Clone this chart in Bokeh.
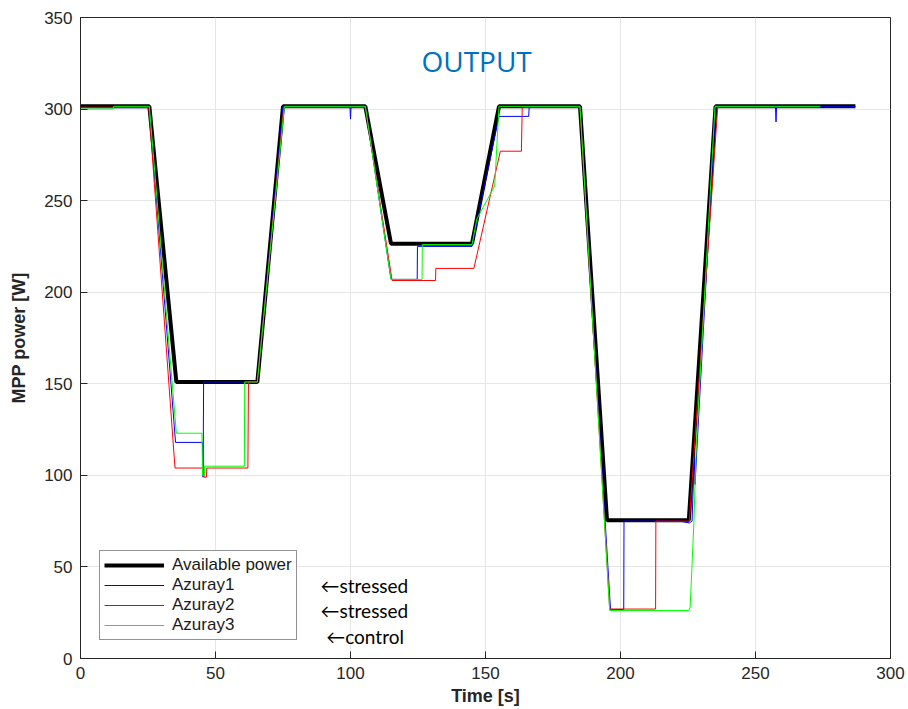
from bokeh.plotting import figure
from bokeh.models import (Range1d, FixedTicker, Legend, LegendItem, Label)
from bokeh.embed import file_html
from bokeh.resources import INLINE

# ---- data ----
time_avail = [0, 25.5, 35.5, 65.5, 75, 105.5, 115, 145, 155, 185, 195, 225.3, 235.2, 287]
power_avail = [301.5, 301.5, 151, 151, 301.5, 301.5, 226.5, 226.5, 301.5, 301.5, 75.5, 75.5, 301.5, 301.5]

time_az1 = [0, 25.5, 35.2, 45.2, 45.4, 45.6, 65.5, 75, 99.8, 100, 100.2, 105.5, 115,
            124.7, 124.8, 145, 155, 166, 166.2, 185, 196.3, 201.2, 201.3, 222, 225.5,
            226.5, 227.3, 227.6, 228.5, 235.2, 257.4, 257.6, 257.8, 287]
power_az1 = [300.8, 300.8, 118, 118, 99, 151, 151, 301.5, 301.5, 294.5, 301.5, 301.5, 207,
             207, 225, 225, 296, 296, 301.5, 301.5, 26.8, 26.8, 75, 75, 74,
             75, 110, 95, 120, 301.5, 301.5, 293, 301.5, 301.5]

time_az2 = [0, 25.3, 35, 45.6, 45.8, 46.6, 46.8, 62, 62.2, 65.5, 75.3, 105.5, 115.4,
            131.5, 131.6, 145.7, 155.5, 163.3, 163.6, 185, 196, 213, 213.1, 225.5, 236, 274]
power_az2 = [301, 301, 104, 104, 99, 99, 104, 104, 151, 151, 301, 301, 206.4,
             206.4, 213, 213, 277, 277, 301, 301, 27, 27, 75, 75, 301, 301]

time_az3 = [0, 12, 12.3, 25.5, 35.5, 45, 45.2, 45.8, 46, 60.7, 60.8, 65.5, 75.5, 105.5,
            115, 126.5, 126.6, 145, 146.8, 153.4, 155, 185, 196, 225.3, 225.8, 227.2,
            228, 235, 274]
power_az3 = [300, 300, 301.5, 301.5, 123, 123, 100, 100, 105, 105, 151, 151, 301.5, 301.5,
             207, 207, 226, 226, 240, 258, 301.5, 301.5, 26.2, 26.2, 28, 75,
             114, 301.5, 301.5]

series_names = ["Available power", "Azuray1", "Azuray2", "Azuray3"]
notes = ["\u2190stressed", "\u2190stressed", "\u2190control"]
x_ticks = [0, 50, 100, 150, 200, 250, 300]
y_ticks = [0, 50, 100, 150, 200, 250, 300, 350]

AX = "#262626"
TICK_FONT = "Liberation Sans"

p = figure(width=908, height=709, output_backend="svg", toolbar_location=None,
           x_range=Range1d(0, 300), y_range=Range1d(0, 350),
           x_axis_label="Time [s]", y_axis_label="MPP power [W]")
p.min_border_left = 80
p.min_border_right = 18
p.min_border_top = 17
p.min_border_bottom = 51
p.outline_line_color = AX
p.outline_line_width = 1
p.background_fill_color = "white"
p.border_fill_color = "white"

for ax, ticks in ((p.xaxis[0], x_ticks), (p.yaxis[0], y_ticks)):
    ax.ticker = FixedTicker(ticks=ticks)
    ax.major_tick_in = 7
    ax.major_tick_out = 0
    ax.minor_tick_line_color = None
    ax.axis_line_color = AX
    ax.major_tick_line_color = AX
    ax.major_label_text_color = AX
    ax.major_label_text_font = TICK_FONT
    ax.major_label_text_font_size = "17px"
    ax.axis_label_text_font = TICK_FONT
    ax.axis_label_text_font_size = "18px"
    ax.axis_label_text_font_style = "bold"
    ax.axis_label_text_color = AX

p.xaxis[0].major_label_standoff = 8
p.xaxis[0].axis_label_standoff = 4
p.yaxis[0].major_label_standoff = 8
p.yaxis[0].axis_label_standoff = 12

p.xgrid.ticker = FixedTicker(ticks=x_ticks)
p.ygrid.ticker = FixedTicker(ticks=y_ticks)
p.xgrid.grid_line_color = "#e6e6e6"
p.ygrid.grid_line_color = "#e6e6e6"

r0 = p.line(time_avail, power_avail, line_color="black", line_width=4)
r1 = p.line(time_az1, power_az1, line_color="#0000ff", line_width=1)
r2 = p.line(time_az2, power_az2, line_color="#ff0000", line_width=1)
r3 = p.line(time_az3, power_az3, line_color="#00ff00", line_width=1)

legend = Legend(items=[LegendItem(label=n, renderers=[r]) for n, r in
                       zip(series_names, [r0, r1, r2, r3])],
                location=(19, 18))
legend.label_text_font = TICK_FONT
legend.label_text_font_size = "17px"
legend.label_text_color = "#1a1a1a"
legend.glyph_width = 60
legend.glyph_height = 18
legend.label_height = 18
legend.spacing = 0
legend.padding = 4
legend.margin = 0
legend.label_standoff = 8
legend.border_line_color = AX
legend.border_line_width = 1
legend.background_fill_color = "white"
legend.background_fill_alpha = 1
p.add_layout(legend)

p.add_layout(Label(x=146.7, y=326, text="OUTPUT", text_align="center", text_baseline="middle",
                   text_font="Open Sans", text_font_size="28px", text_color="#0070c0"))
for (tx, ty), t in zip([(88.9, 40), (88.9, 26.2), (91, 12)], notes):
    p.add_layout(Label(x=tx, y=ty, text=t, text_align="left", text_baseline="middle",
                       text_font="Lato", text_font_size="19px", text_color="black"))

open("out.html", "w").write(file_html(p, INLINE))
